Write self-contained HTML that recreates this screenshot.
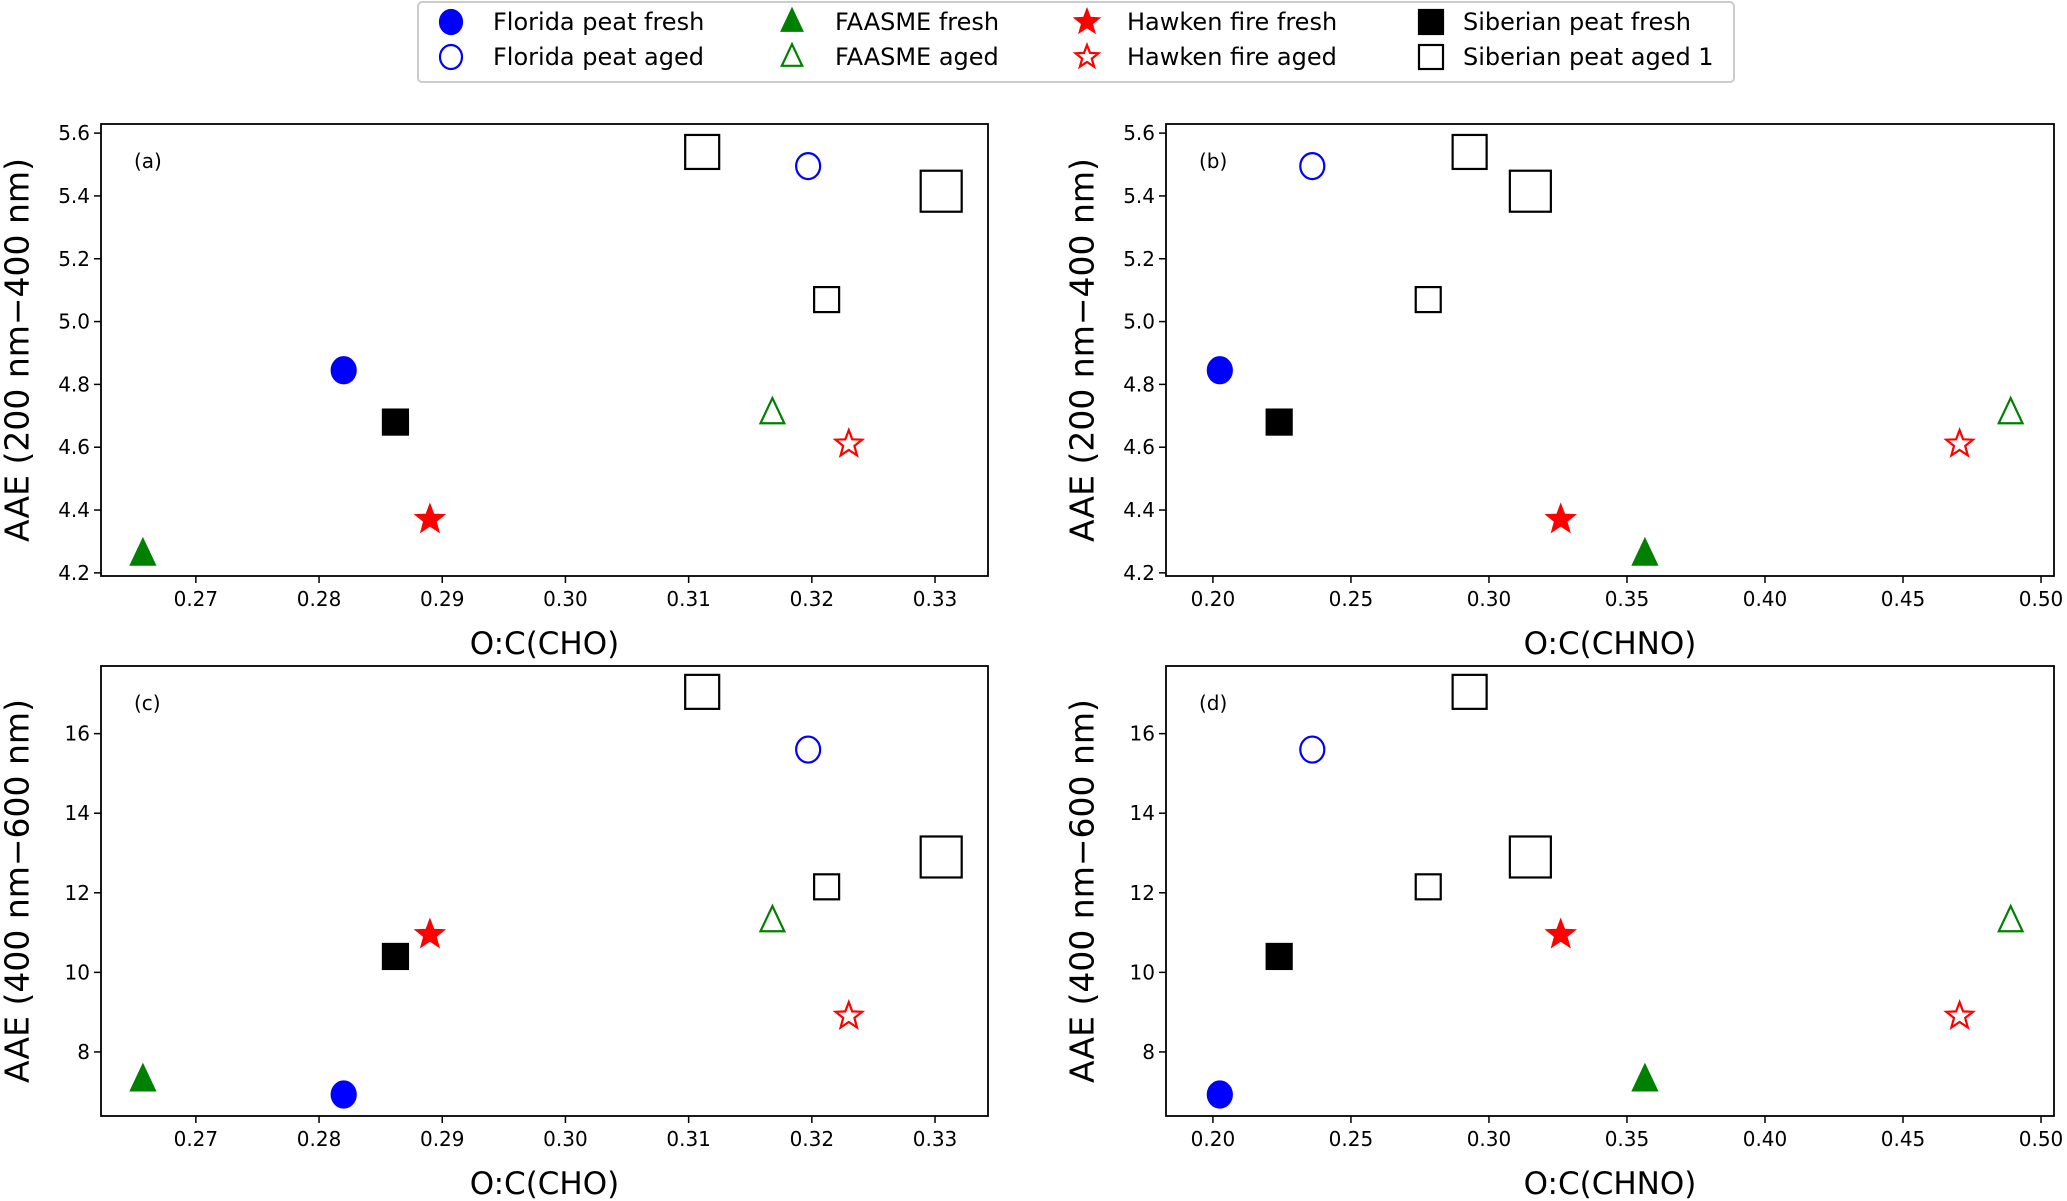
<!DOCTYPE html>
<html><head><meta charset="utf-8"><style>
html,body{margin:0;padding:0;background:#fff;}
svg{display:block;font-family:"DejaVu Sans","Liberation Sans",sans-serif;}
</style></head><body>
<svg id="fig" width="2067" height="1201" viewBox="0 0 2067 1201" xmlns="http://www.w3.org/2000/svg"></svg>
<script>
const seriesNames = ["florida-fresh","florida-aged","faasme-fresh","faasme-aged","hawken-fresh","hawken-aged","siberian-fresh","siberian-aged-1","siberian-aged-2","siberian-aged-3"];
const ocCHO  = [0.2820,0.3197,0.2657,0.3168,0.2890,0.3230,0.2862,0.3111,0.3305,0.3212];
const ocCHNO = [0.2025,0.2360,0.3565,0.4890,0.3260,0.4705,0.2240,0.2930,0.3150,0.2780];
const aae200_400 = [4.845,5.495,4.26,4.71,4.37,4.61,4.68,5.54,5.415,5.07];
const aae400_600 = [6.93,15.6,7.3,11.3,10.95,8.9,10.4,17.05,12.9,12.15];
const xTicksCHO = [0.27,0.28,0.29,0.30,0.31,0.32,0.33];
const xTicksCHNO = [0.20,0.25,0.30,0.35,0.40,0.45,0.50];
const yTicksA = [4.2,4.4,4.6,4.8,5.0,5.2,5.4,5.6];
const yTicksB = [8,10,12,14,16];

const styles = [
  {m:"circle",fill:"blue",stroke:"blue",s:26},
  {m:"circle",fill:"none",stroke:"blue",s:26},
  {m:"tri",fill:"green",stroke:"green",s:28},
  {m:"tri",fill:"none",stroke:"green",s:28},
  {m:"star",fill:"red",stroke:"red",s:28},
  {m:"star",fill:"none",stroke:"red",s:28},
  {m:"sq",fill:"black",stroke:"black",s:25},
  {m:"sq",fill:"none",stroke:"black",s:34},
  {m:"sq",fill:"none",stroke:"black",s:41},
  {m:"sq",fill:"none",stroke:"black",s:25}
];
const NS="http://www.w3.org/2000/svg";
const svg=document.getElementById("fig");
function el(tag,attrs,parent){const e=document.createElementNS(NS,tag);for(const k in attrs)e.setAttribute(k,attrs[k]);(parent||svg).appendChild(e);return e;}
function marker(g,st,cx,cy){
  const s=st.s;let e;
  const sw=2.2;
  if(st.m==="circle"){e=el("ellipse",{cx:cx,cy:cy,rx:s/2-1,ry:s/2,fill:st.fill,stroke:st.stroke,"stroke-width":sw},g);}
  else if(st.m==="sq"){e=el("rect",{x:cx-s/2,y:cy-s/2,width:s,height:s,fill:st.fill,stroke:st.stroke,"stroke-width":sw},g);}
  else if(st.m==="tri"){const h=s*0.9,w=s*0.85;e=el("polygon",{points:`${cx},${cy-h/2-2} ${cx-w/2},${cy+h/2-2} ${cx+w/2},${cy+h/2-2}`,fill:st.fill,stroke:st.stroke,"stroke-width":sw},g);}
  else{const R=s/2,r=R*0.42;let p=[];for(let i=0;i<10;i++){const a=-Math.PI/2+i*Math.PI/5;const rr=i%2?r:R;p.push((cx+rr*Math.cos(a)).toFixed(1)+","+(cy+rr*Math.sin(a)).toFixed(1));}
    e=el("polygon",{points:p.join(" "),fill:st.fill,stroke:st.stroke,"stroke-width":sw},g);}
  return e;
}
function panel(id,L,R,T,B,xmin,xmax,ymin,ymax,xs,ys,xt,yt,xlabel,ylabel,tag,xfmt,yfmt){
  const g=el("g",{});
  
  
  const X=v=>L+(v-xmin)/(xmax-xmin)*(R-L);
  const Y=v=>B-(v-ymin)/(ymax-ymin)*(B-T);
  xt.forEach(t=>{const x=X(t);el("line",{x1:x,y1:B,x2:x,y2:B+7,stroke:"#000","stroke-width":1.5},g);
    const tx=el("text",{x:x,y:B+30,"font-size":20,"text-anchor":"middle"},g);tx.textContent=t.toFixed(xfmt);
    
    });
  yt.forEach(t=>{const y=Y(t);el("line",{x1:L-7,y1:y,x2:L,y2:y,stroke:"#000","stroke-width":1.5},g);
    const tx=el("text",{x:L-11,y:y+7,"font-size":20,"text-anchor":"end"},g);tx.textContent=t.toFixed(yfmt);
    
    });
  for(let i=0;i<xs.length;i++){const m=marker(g,styles[i],X(xs[i]),Y(ys[i]));
    
    }
  const fr=el("rect",{x:L,y:T,width:R-L,height:B-T,fill:"none",stroke:"#000","stroke-width":1.8},g);
  
  
  const tg=el("text",{x:L+33,y:T+44,"font-size":20},g);tg.textContent=tag;
  
  
  const xl=el("text",{x:(L+R)/2,y:B+78,"font-size":31,"text-anchor":"middle"},g);xl.textContent=xlabel;
  
  
  const cy=(T+B)/2,cx=L-82;
  const yl=el("text",{x:cx,y:cy,"font-size":33,"text-anchor":"middle",transform:`rotate(-90 ${cx} ${cy})`,"dominant-baseline":"middle"},g);yl.textContent=ylabel;
  
  
}
panel("a",101,988,124,576,0.2623,0.3343,4.19,5.629,ocCHO,aae200_400,xTicksCHO,yTicksA,"O:C(CHO)","AAE (200 nm\u2212400 nm)","(a)",2,1);
panel("b",1166,2054,124,576,0.183,0.5047,4.19,5.629,ocCHNO,aae200_400,xTicksCHNO,yTicksA,"O:C(CHNO)","AAE (200 nm\u2212400 nm)","(b)",2,1);
panel("c",101,988,666,1116,0.2623,0.3343,6.39,17.70,ocCHO,aae400_600,xTicksCHO,yTicksB,"O:C(CHO)","AAE (400 nm\u2212600 nm)","(c)",2,0);
panel("d",1166,2054,666,1116,0.183,0.5047,6.39,17.70,ocCHNO,aae400_600,xTicksCHNO,yTicksB,"O:C(CHNO)","AAE (400 nm\u2212600 nm)","(d)",2,0);

const lg=el("g",{});


el("rect",{x:418,y:2,width:1316,height:80,rx:4,fill:"#fff",stroke:"#ccc","stroke-width":2},lg);
const legendLabels=["Florida peat fresh","Florida peat aged","FAASME fresh","FAASME aged","Hawken fire fresh","Hawken fire aged","Siberian peat fresh","Siberian peat aged 1"];
const mx=[451,792,1087,1431],tx=[493,835,1127,1463],ry=[22,57];
for(let i=0;i<8;i++){
  const c=Math.floor(i/2),r=i%2;
  const st=Object.assign({},styles[i]);st.s=24;
  const entry=el("g",{},lg);
  
  
  marker(entry,st,mx[c],ry[r]);
  const t=el("text",{x:tx[c],y:ry[r]+8,"font-size":24},entry);t.textContent=legendLabels[i];
}
</script>
</body></html>
